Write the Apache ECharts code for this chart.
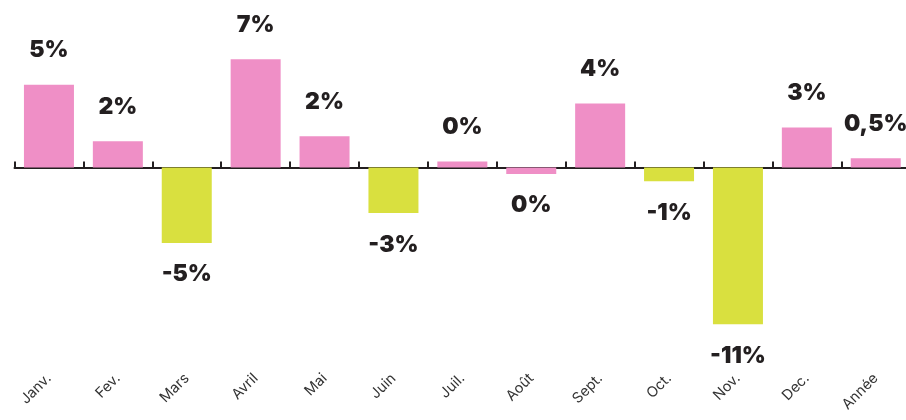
<!DOCTYPE html>
<html>
<head>
<meta charset="utf-8">
<script src="https://cdn.jsdelivr.net/npm/echarts@6/dist/echarts.min.js"></script>
<style>html,body{margin:0;padding:0;background:#fff}#c{width:906px;height:420px}</style>
</head>
<body>
<div id="c"></div>
<script>
var categories = ['Janv.', 'Fev.', 'Mars', 'Avril', 'Mai', 'Juin', 'Juil.', 'Août', 'Sept.', 'Oct.', 'Nov.', 'Dec.', 'Année'];
var values = [5.8, 1.85, -5.3, 7.6, 2.2, -3.2, 0.42, -0.45, 4.5, -0.96, -11, 2.8, 0.65];
var valueLabels = ['5%', '2%', '-5%', '7%', '2%', '-3%', '0%', '0%', '4%', '-1%', '-11%', '3%', '0,5%'];
var barColors = ['pink', 'pink', 'green', 'pink', 'pink', 'green', 'pink', 'pink', 'pink', 'green', 'green', 'pink', 'pink'];

var PINK = '#EF8FC6', GREEN = '#D9E03F';
var chart = echarts.init(document.getElementById('c'), null, {renderer: 'canvas'});
var data = values.map(function (v, i) {
  return {
    value: v,
    itemStyle: {color: barColors[i] === 'pink' ? PINK : GREEN},
    label: {position: v < 0 ? 'bottom' : 'top', distance: v < 0 ? 20 : 23, formatter: valueLabels[i]}
  };
});
chart.setOption({
  animation: false,
  backgroundColor: '#fff',
  grid: {left: 14.5, width: 895.7, top: 25, bottom: 53, containLabel: false, outerBoundsMode: 'none'},
  xAxis: [{
    type: 'category',
    data: categories,
    axisLine: {onZero: true, lineStyle: {color: '#231F20', width: 2}},
    axisTick: {show: true, inside: true, length: 6, lineStyle: {color: '#231F20', width: 2}},
    axisLabel: {show: false},
    splitLine: {show: false}
  }, {
    type: 'category',
    data: categories,
    position: 'bottom',
    axisLine: {show: false, onZero: false},
    axisTick: {show: false},
    axisLabel: {show: true, rotate: 45, margin: 9, fontFamily: 'Inter', fontSize: 14.5, color: '#333'},
    splitLine: {show: false}
  }],
  yAxis: {
    type: 'value', min: -14, max: 10, show: false,
    splitLine: {show: false}
  },
  series: [{
    type: 'bar',
    xAxisIndex: 0,
    data: data,
    barWidth: 50,
    label: {
      show: true,
      fontFamily: 'Inter',
      fontWeight: 900,
      fontSize: 23,
      color: '#231F20'
    }
  }]
});
</script>
</body>
</html>
